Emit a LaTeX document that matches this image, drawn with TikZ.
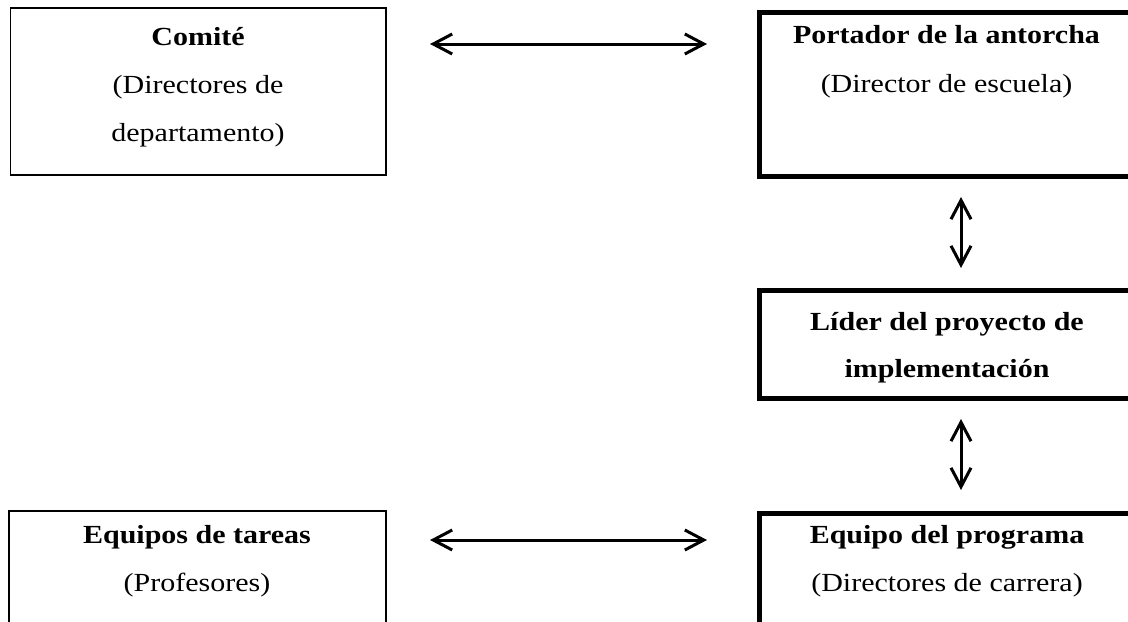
\documentclass[tikz,border=0pt]{standalone}
\usepackage{fontspec}
\setmainfont{Liberation Serif}
\usepackage{graphicx}
\usetikzlibrary{arrows.meta}
\newlength\pxu \setlength\pxu{0.5pt}
\newcommand\sqz[1]{\scalebox{1}[0.87]{#1}}
\begin{document}
\begin{tikzpicture}[x=0.5pt,y=-0.5pt,
  thinbox/.style={draw, line width=0.75pt, inner sep=0pt, outer sep=0pt},
  thickbox/.style={draw, line width=2.5pt, inner sep=0pt, outer sep=0pt},
  txt/.style={anchor=base, inner sep=0pt, font=\fontsize{15}{18}\selectfont},
  txtb/.style={txt, font=\fontsize{15}{18}\selectfont\bfseries},
  biarrow/.style={line width=1.5pt,
    {Straight Barb[length=9.5pt,width=10pt]}-{Straight Barb[length=9.5pt,width=10pt]}}]
\useasboundingbox (0,0) rectangle (1128,621);
\fill[white] (0,0) rectangle (1128,621);
\clip (0,0) rectangle (1128,621);

% boxes
\node[thinbox, minimum width=375.5\pxu, minimum height=167\pxu] (comite) at (198.25,91.5) {};
\node[thinbox, minimum width=377\pxu, minimum height=129\pxu] (equipos) at (197.5,575.5) {};
\node[thickbox, minimum width=376\pxu, minimum height=164\pxu] (portador) at (947,94) {};
\node[thickbox, minimum width=376\pxu, minimum height=108\pxu] (lider) at (947,344) {};
\node[thickbox, minimum width=376\pxu, minimum height=127\pxu] (programa) at (947,576.5) {};

% texts
\node[txtb] (comite1) at (198,45) {\sqz{Comité}};
\node[txt] (comite2) at (198,93) {\sqz{(Directores de}};
\node[txt] (comite3) at (198,141) {\sqz{departamento)}};

\node[txtb] (portador1) at (946.5,43) {\sqz{Portador de la antorcha}};
\node[txt] (portador2) at (946.5,92) {\sqz{(Director de escuela)}};

\node[txtb] (lider1) at (947,330) {\sqz{Líder del proyecto de}};
\node[txtb] (lider2) at (947,377) {\sqz{implementación}};

\node[txtb] (equipos1) at (197,543) {\sqz{Equipos de tareas}};
\node[txt] (equipos2) at (197,591) {\sqz{(Profesores)}};

\node[txtb] (programa1) at (947,543) {\sqz{Equipo del programa}};
\node[txt] (programa2) at (947,591) {\sqz{(Directores de carrera)}};

% connector end points
\coordinate (h1a) at (430,44);
\coordinate (h1b) at (707,44);
\coordinate (h2a) at (430,540);
\coordinate (h2b) at (707,540);
\coordinate (v1a) at (961,197);
\coordinate (v1b) at (961,268);
\coordinate (v2a) at (961,419);
\coordinate (v2b) at (961,490);

\draw[biarrow] (h1a) -- (h1b);
\draw[biarrow] (h2a) -- (h2b);
\draw[biarrow] (v1a) -- (v1b);
\draw[biarrow] (v2a) -- (v2b);
\end{tikzpicture}
\end{document}
